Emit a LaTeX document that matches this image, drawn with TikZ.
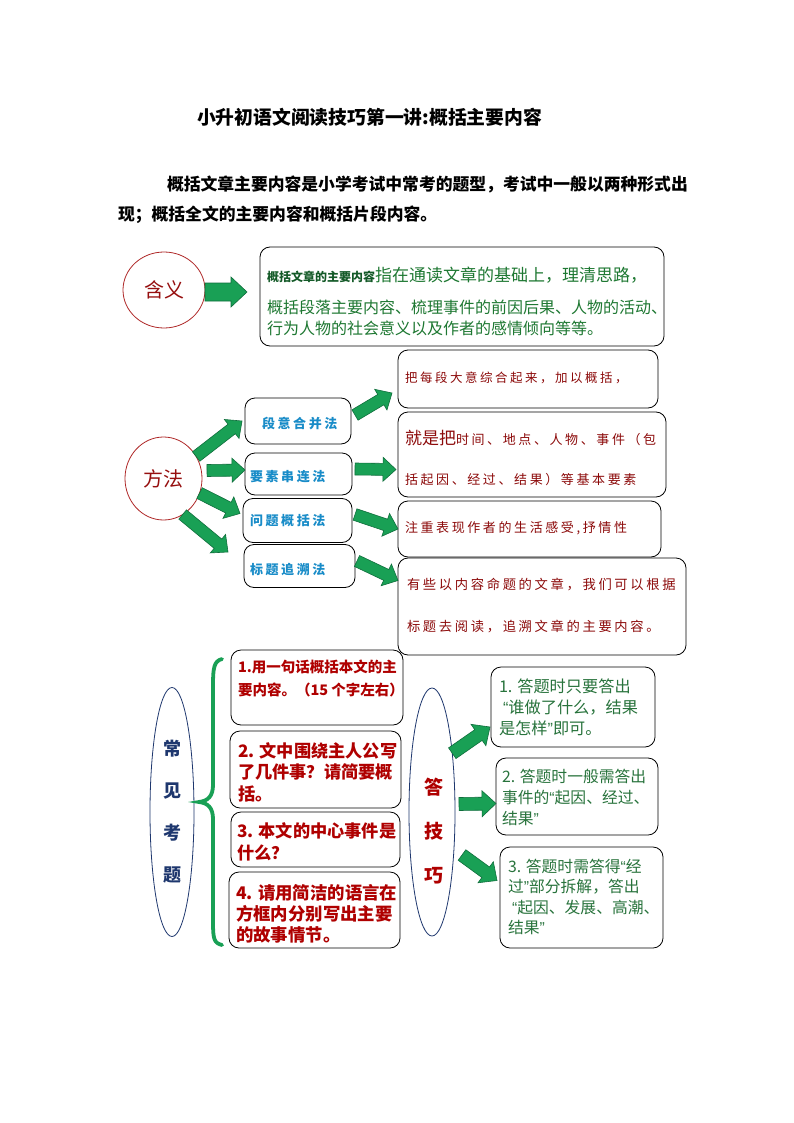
\documentclass[tikz,border=0pt]{standalone}
\usepackage{fontspec}
\setmainfont{Noto Sans CJK SC}
\newfontfamily\cjksp[LetterSpace=20]{Noto Sans CJK SC}
\newfontfamily\latq{Liberation Sans}
\newcommand\oqt{{\latq “}}
\newcommand\cqt{{\latq ”}}
\usetikzlibrary{shapes.geometric,calc}
\definecolor{cdred}{RGB}{150,15,15}
\definecolor{circred}{RGB}{175,40,40}
\definecolor{defgreen}{RGB}{30,120,50}
\definecolor{defdark}{RGB}{20,90,40}
\definecolor{mblue}{RGB}{25,140,200}
\definecolor{mred}{RGB}{140,10,10}
\definecolor{qred}{RGB}{175,0,0}
\definecolor{navyc}{RGB}{30,55,110}
\definecolor{tgreen}{RGB}{40,115,60}
\definecolor{afill}{RGB}{25,160,85}
\definecolor{aedge}{RGB}{15,110,60}
\newcommand\fs[2]{\fontsize{#1}{#2}\selectfont}
\newcommand\barrow[5]{%
 \path[blockarrow] let \p1=(#1), \p2=(#2), \n1={atan2(\y2-\y1,\x2-\x1)}, \n2={veclen(\x2-\x1,\y2-\y1)-#5} in
 ($(\p1)+(\n1+90:#3pt)$) -- ($(\p1)+(\n1:\n2)+(\n1+90:#3pt)$) -- ($(\p1)+(\n1:\n2)+(\n1+90:#4pt)$) -- (\p2) -- ($(\p1)+(\n1:\n2)+(\n1-90:#4pt)$) -- ($(\p1)+(\n1:\n2)+(\n1-90:#3pt)$) -- ($(\p1)+(\n1-90:#3pt)$) -- cycle;}
\begin{document}
\begin{tikzpicture}[x=1pt,y=-1pt,
 rbox/.style={draw=black, line width=0.8pt, rounded corners=10pt, inner sep=0pt, outer sep=0pt},
 blockarrow/.style={fill=afill, draw=aedge, line width=0.6pt, line join=miter},
 oval/.style={ellipse, draw, line width=0.8pt, inner sep=0pt, outer sep=0pt},
 txt/.style={inner sep=0pt, outer sep=0pt, anchor=west, align=left},
 mtxt/.style={txt, text=mblue, font=\cjksp\bfseries\fs{13}{16}},
 rtxt/.style={txt, text=mred, font=\cjksp\fs{13}{16}},
 qtxt/.style={txt, text=qred, font=\bfseries\fs{17.2}{21.5}},
 atxt/.style={txt, text=tgreen, font=\fs{16.2}{21}},
]
\fill[white] (0,0) rectangle (794,1123);
\useasboundingbox (0,0) rectangle (794,1123);

% title and intro
\node[txt, font=\bfseries\fs{18.8}{22}] (title) at (197,117) {小升初语文阅读技巧第一讲:概括主要内容};
\node[txt, font=\bfseries\fs{16.8}{30}] (intro) at (118,200) {\hspace*{49pt}概括文章主要内容是小学考试中常考的题型，考试中一般以两种形式出\\现；概括全文的主要内容和概括片段内容。};

% meaning
\node[oval, draw=circred, minimum width=82pt, minimum height=76pt, text=cdred, font=\fs{20}{24}] (hanyi) at (164,290) {含义};
\node[rbox, minimum width=404pt, minimum height=99pt] (defbox) at (462,296.5) {};
\node[txt, text=defgreen, font=\fs{17}{20}] (deft1) at (267,275) {{\color{defdark}\bfseries\fs{12}{14}概括文章的主要内容}指在通读文章的基础上，理清思路，};
\node[txt, text=defgreen, font=\fs{16}{21}] (deft2) at (267,318) {概括段落主要内容、梳理事件的前因后果、人物的活动、\\行为人物的社会意义以及作者的感情倾向等等。};
\barrow{[yshift=-2pt]hanyi.east}{[xshift=-13pt,yshift=4.5pt]defbox.west}{9}{15}{16}

% methods
\node[oval, draw=circred, minimum width=77pt, minimum height=83pt, text=cdred, font=\fs{20}{24}] (fangfa) at (163.5,478.5) {方法};
\node[rbox, minimum width=106pt, minimum height=46pt] (mA) at (298,421) {};
\node[rbox, minimum width=107pt, minimum height=42pt] (mB) at (298.5,474) {};
\node[rbox, minimum width=109pt, minimum height=44pt] (mC) at (297.5,520.5) {};
\node[rbox, minimum width=111pt, minimum height=43pt] (mD) at (299.5,566) {};
\node[mtxt] (mAt) at (262,424) {段意合并法};
\node[mtxt] (mBt) at (250,477) {要素串连法};
\node[mtxt] (mCt) at (250,521) {问题概括法};
\node[mtxt] (mDt) at (250,570) {标题追溯法};

\node[rbox, minimum width=260pt, minimum height=58pt] (rA) at (528,379) {};
\node[rbox, minimum width=268pt, minimum height=85pt] (rB) at (532,454.5) {};
\node[rbox, minimum width=263pt, minimum height=56pt] (rC) at (529.5,529) {};
\node[rbox, minimum width=288pt, minimum height=97pt] (rD) at (542,606.5) {};
\node[rtxt, font=\cjksp\fs{12.5}{16}] (rAt) at (405,378) {把每段大意综合起来，加以概括，};
\node[rtxt] (rBt1) at (405,438) {{\normalfont\fs{17}{20}就是把}时间、地点、人物、事件（包};
\node[rtxt] (rBt2) at (405,480) {括起因、经过、结果）等基本要素};
\node[rtxt] (rCt) at (405,528) {注重表现作者的生活感受,抒情性};
\node[rtxt, font=\cjksp\fs{13.3}{16}] (rDt1) at (407,585) {有些以内容命题的文章，我们可以根据};
\node[rtxt, font=\cjksp\fs{13.3}{16}] (rDt2) at (407,627) {标题去阅读，追溯文章的主要内容。};

\barrow{fangfa.34}{[xshift=-3pt]mA.west}{6}{12}{13}
\barrow{[xshift=5pt,yshift=8pt]fangfa.east}{[yshift=4pt]mB.west}{6}{12}{13}
\barrow{fangfa.-22}{[xshift=-3pt,yshift=7pt]mC.west}{6}{12}{13}
\barrow{fangfa.-62}{[xshift=-16pt,yshift=14pt]mD.west}{6}{12}{13}
\barrow{[xshift=4pt,yshift=6pt]mA.east}{[xshift=-6pt,yshift=-14pt]rA.west}{6}{12}{13}
\barrow{[xshift=3pt,yshift=5pt]mB.east}{[xshift=-2pt,yshift=-15pt]rB.west}{6}{12}{13}
\barrow{[xshift=3pt,yshift=6pt]mC.east}{rC.west}{6}{12}{13}
\barrow{[xshift=2pt,yshift=5pt]mD.east}{[yshift=26pt]rD.west}{6}{12}{13}

% common questions
\node[oval, draw=navyc, minimum width=44pt, minimum height=249pt, align=center, text=navyc, font=\bfseries\fs{18}{42}] (cjkt) at (172,812) {常\\见\\考\\题};
\draw[afill, line width=3.8pt, line cap=round] (222,659) .. controls (214,661) and (213,668) .. (213,685) -- (213,785) .. controls (213,796) and (208,801) .. (199,802) .. controls (208,803) and (213,808) .. (213,819) -- (213,922) .. controls (213,939) and (214,943) .. (222,945);
\node[rbox, minimum width=172pt, minimum height=75pt] (q1) at (317,687.5) {};
\node[rbox, minimum width=171pt, minimum height=77pt] (q2) at (315.5,769.5) {};
\node[rbox, minimum width=169pt, minimum height=55pt] (q3) at (315.5,839.5) {};
\node[rbox, minimum width=171pt, minimum height=76pt] (q4) at (314.5,910) {};
\node[qtxt, font=\bfseries\fs{14.5}{23}] (q1t) at (238,678.5) {1.用一句话概括本文的主\\要内容。（15 个字左右）};
\node[qtxt] (q2t) at (238,772) {2. 文中围绕主人公写\\了几件事？请简要概\\括。};
\node[qtxt] (q3t) at (237,842) {3. 本文的中心事件是\\什么？};
\node[qtxt, font=\bfseries\fs{17.4}{21}] (q4t) at (236,914) {4. 请用简洁的语言在\\方框内分别写出主要\\的故事情节。};

% answering skills
\node[oval, draw=navyc, minimum width=46pt, minimum height=248pt] (djq) at (432,812) {};
\node[align=center, text=qred, font=\bfseries\fs{19}{44}, inner sep=0pt] (djqt) at (434,831) {答\\技\\巧};
\node[rbox, minimum width=164pt, minimum height=80pt] (qA) at (573,707) {};
\node[rbox, minimum width=162pt, minimum height=77pt] (qB) at (577,796.5) {};
\node[rbox, minimum width=163pt, minimum height=101pt] (qC) at (581.5,897.5) {};
\node[atxt] (qAt) at (499,707) {1. 答题时只要答出\\\hspace*{4pt}\oqt 谁做了什么，结果\\是怎样\cqt 即可。};
\node[atxt, font=\fs{15.8}{21}] (qBt) at (502,797) {2. 答题时一般需答出\\事件的\oqt 起因、经过、\\结果\cqt};
\node[atxt, font=\fs{15.8}{20.5}] (qCt) at (508,897) {3. 答题时需答得\oqt 经\\过\cqt 部分拆解，答出\\\hspace*{4pt}\oqt 起因、发展、高潮、\\结果\cqt};
\barrow{djq.71}{[xshift=-1pt,yshift=-20pt]qA.west}{6.5}{13}{14}
\barrow{[xshift=4pt,yshift=8pt]djq.east}{[yshift=-7pt]qB.west}{6.5}{13}{14}
\barrow{[xshift=30pt,yshift=-43pt]djq.center}{[xshift=-3pt,yshift=17pt]qC.west}{6.5}{13}{14}
\end{tikzpicture}
\end{document}
